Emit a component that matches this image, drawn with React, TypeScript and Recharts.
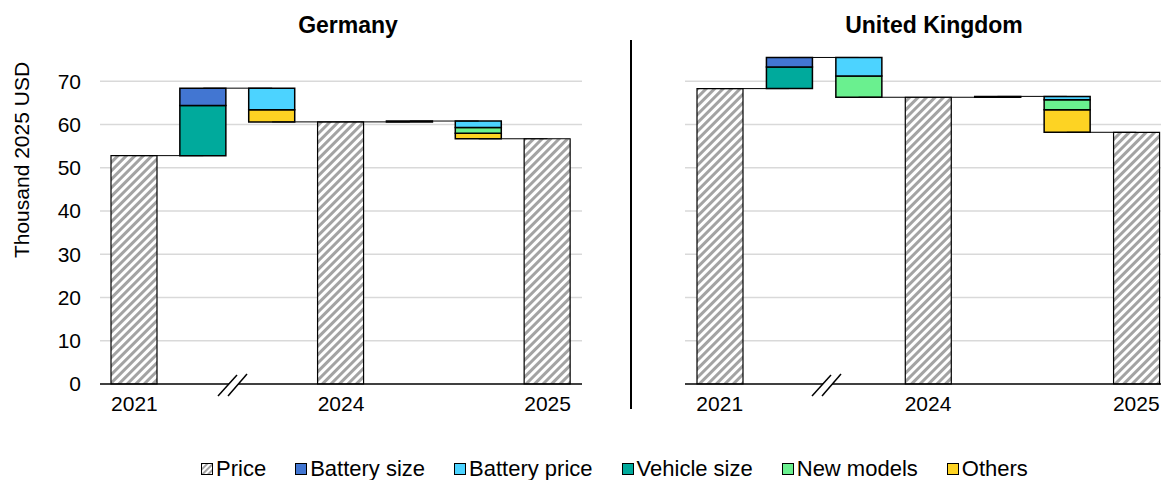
import { BarChart, Bar, XAxis, YAxis, CartesianGrid, ReferenceLine } from 'recharts';

const steps = ['2021', 'a', 'b', '2024', 'c', 'd', '2025'];
const yMax = 80;
const yTicks = [0, 10, 20, 30, 40, 50, 60, 70];
const gridValues = [10, 20, 30, 40, 50, 60, 70];

// Germany, thousand 2025 USD (decreases negative)
const deuPrice = [52.8, 0, 0, 60.6, 0, 0, 56.7];
const deuBatterySize = [0, 4.0, 0, 0, 0.2, 0, 0];
const deuBatteryPrice = [0, 0, -5.0, 0, 0, -1.5, 0];
const deuVehicleSize = [0, 11.6, 0, 0, 0, 0, 0];
const deuNewModels = [0, 0, 0, 0, 0, -1.3, 0];
const deuOthers = [0, 0, -2.8, 0, 0, -1.3, 0];

// United Kingdom
const gbrPrice = [68.3, 0, 0, 66.3, 0, 0, 58.2];
const gbrBatterySize = [0, 2.2, 0, 0, 0.2, 0, 0];
const gbrBatteryPrice = [0, 0, -4.3, 0, 0, -0.8, 0];
const gbrVehicleSize = [0, 5.0, 0, 0, 0, 0, 0];
const gbrNewModels = [0, 0, -4.9, 0, 0, -2.3, 0];
const gbrOthers = [0, 0, 0, 0, 0, -5.2, 0];

const FONT = '"Liberation Sans", Arial, sans-serif';

const series = [
  { key: 'others', name: 'Others', color: '#fdd323' },
  { key: 'newModels', name: 'New models', color: '#6af08f' },
  { key: 'vehicleSize', name: 'Vehicle size', color: '#00aa9c' },
  { key: 'batterySize', name: 'Battery size', color: '#4276d2' },
  { key: 'batteryPrice', name: 'Battery price', color: '#4cd3ff' },
];

const legendOrder = ['batterySize', 'batteryPrice', 'vehicleSize', 'newModels', 'others'];

function buildRows(price: number[], bs: number[], bp: number[], vs: number[], nm: number[], ot: number[]) {
  let level = 0;
  const rows: any[] = [];
  const levels: number[] = [];
  steps.forEach((key, i) => {
    let base = 0;
    if (price[i] > 0) {
      level = price[i];
    } else {
      const sum = bs[i] + bp[i] + vs[i] + nm[i] + ot[i];
      if (sum >= 0) {
        base = level;
        level += sum;
      } else {
        level += sum;
        base = level;
      }
    }
    levels.push(level);
    rows.push({
      key,
      base,
      price: price[i],
      batterySize: Math.abs(bs[i]),
      batteryPrice: Math.abs(bp[i]),
      vehicleSize: Math.abs(vs[i]),
      newModels: Math.abs(nm[i]),
      others: Math.abs(ot[i]),
    });
  });
  return { rows, levels };
}

const tickLabel = (v: string) => (v.length === 4 ? v : '');

// grid only at the labelled ticks above zero (no line at the domain top)
const gridGen = (props: any) => {
  const o = props.offset;
  return gridValues.map((v) => o.top + o.height * (1 - v / yMax));
};

function Waterfall({ rows, levels, showY, id }: { rows: any[]; levels: number[]; showY: boolean; id: string }) {
  return (
    <BarChart
      width={showY ? 590 : 540}
      height={420}
      data={rows}
      margin={showY ? { top: 38, right: 8, left: 0, bottom: 6 } : { top: 38, right: 9, left: 45, bottom: 6 }}
      barSize={46}
    >
      <defs>
        <pattern id={id} patternUnits="userSpaceOnUse" width="6" height="6" patternTransform="rotate(45)">
          <rect width="6" height="6" fill="#ffffff" />
          <rect width="3" height="6" fill="#a3a3a3" />
        </pattern>
      </defs>
      <CartesianGrid vertical={false} stroke="#d9d9d9" strokeWidth={1.5} horizontalCoordinatesGenerator={gridGen} />
      <XAxis
        dataKey="key"
        tickFormatter={tickLabel}
        axisLine={{ stroke: '#000', strokeWidth: 1.5 }}
        tickLine={false}
        tickSize={0}
        tickMargin={12}
        height={30}
        interval={0}
        tick={{ fill: '#000', fontSize: 21, fontFamily: FONT }}
      />
      <YAxis
        hide={!showY}
        width={100}
        domain={[0, yMax]}
        ticks={yTicks}
        axisLine={false}
        tickLine={false}
        tickSize={0}
        tickMargin={19}
        tick={{ fill: '#000', fontSize: 21, fontFamily: FONT }}
      />
      <Bar dataKey="base" stackId="s" fill="transparent" isAnimationActive={false} />
      <Bar dataKey="price" stackId="s" fill={`url(#${id})`} stroke="#000" strokeWidth={1.2} isAnimationActive={false} />
      {series.map((s) => (
        <Bar
          key={s.key}
          dataKey={s.key}
          stackId="s"
          fill={s.color}
          stroke="#000"
          strokeWidth={1.5}
          isAnimationActive={false}
        />
      ))}
      {levels.slice(0, -1).map((lv, i) => (
        <ReferenceLine
          key={i}
          segment={[
            { x: steps[i], y: lv },
            { x: steps[i + 1], y: lv },
          ]}
          stroke="#000"
          strokeWidth={1}
        />
      ))}
    </BarChart>
  );
}

const deu = buildRows(deuPrice, deuBatterySize, deuBatteryPrice, deuVehicleSize, deuNewModels, deuOthers);
const gbr = buildRows(gbrPrice, gbrBatterySize, gbrBatteryPrice, gbrVehicleSize, gbrNewModels, gbrOthers);

// axis break "//"
const BreakMark = ({ left }: { left: number }) => (
  <svg style={{ position: 'absolute', left, top: 372, overflow: 'visible' }} width={34} height={26}>
    <polygon points="14.7,9 24.1,9 20.6,15 11,15" fill="#fff" />
    <line x1={2} y1={24} x2={21} y2={3} stroke="#000" strokeWidth={1.5} />
    <line x1={12} y1={24} x2={31} y2={2} stroke="#000" strokeWidth={1.5} />
  </svg>
);

export default function App() {
  return (
    <div
      style={{
        position: 'absolute',
        left: 0,
        top: 0,
        width: 1161,
        height: 480,
        overflow: 'hidden',
        background: '#fff',
        fontFamily: FONT,
      }}
    >
      <div style={{ position: 'absolute', left: 0, top: 0 }}>
        <Waterfall rows={deu.rows} levels={deu.levels} showY id="hatchDeu" />
      </div>
      <div style={{ position: 'absolute', left: 640, top: 0 }}>
        <Waterfall rows={gbr.rows} levels={gbr.levels} showY={false} id="hatchGbr" />
      </div>

      <div style={{ position: 'absolute', left: 248, width: 200, top: 12, textAlign: 'center', fontSize: 23, fontWeight: 'bold' }}>
        Germany
      </div>
      <div style={{ position: 'absolute', left: 834, width: 200, top: 12, textAlign: 'center', fontSize: 23, fontWeight: 'bold' }}>
        United Kingdom
      </div>

      <svg style={{ position: 'absolute', left: 0, top: 0 }} width={50} height={420}>
        <text
          x={0}
          y={0}
          transform="translate(29,160) rotate(-90)"
          textAnchor="middle"
          fontSize={21}
          fontFamily={FONT}
          fill="#000"
        >
          Thousand 2025 USD
        </text>
      </svg>

      <div style={{ position: 'absolute', left: 630, top: 40, width: 1.5, height: 369, background: '#000' }} />

      <BreakMark left={216} />
      <BreakMark left={810} />

      <div
        style={{
          position: 'absolute',
          left: 201,
          top: 456,
          display: 'flex',
          alignItems: 'center',
          gap: 29,
          fontSize: 22,
          color: '#000',
          whiteSpace: 'nowrap',
        }}
      >
        <div style={{ display: 'flex', alignItems: 'center', gap: 3 }}>
          <svg width={12} height={12}>
            <defs>
              <pattern id="hatchLeg" patternUnits="userSpaceOnUse" width="4" height="4" patternTransform="rotate(45)">
                <rect width="4" height="4" fill="#fff" />
                <rect width="2" height="4" fill="#a3a3a3" />
              </pattern>
            </defs>
            <rect x={0.5} y={0.5} width={11} height={11} fill="url(#hatchLeg)" stroke="#000" />
          </svg>
          <span>Price</span>
        </div>
        {legendOrder.map((k) => {
          const s = series.find((x) => x.key === k)!;
          return (
            <div key={k} style={{ display: 'flex', alignItems: 'center', gap: 3 }}>
              <svg width={12} height={12}>
                <rect x={0.5} y={0.5} width={11} height={11} fill={s.color} stroke="#000" />
              </svg>
              <span>{s.name}</span>
            </div>
          );
        })}
      </div>
    </div>
  );
}
